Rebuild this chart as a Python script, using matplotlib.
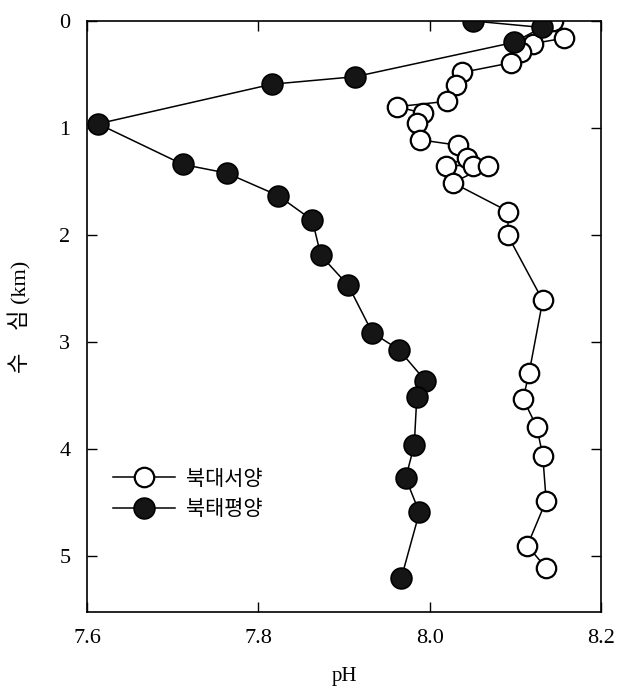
import matplotlib.pyplot as plt

plt.rcParams['font.family'] = ['Liberation Serif', 'Noto Sans CJK KR']

# 북대서양 (open circles)
atl_ph = [8.144, 8.157, 8.121, 8.107, 8.095, 8.038, 8.031, 8.020, 7.962, 7.992,
          7.985, 7.989, 8.033, 8.044, 8.019, 8.050, 8.068, 8.027, 8.092, 8.091,
          8.132, 8.116, 8.109, 8.125, 8.132, 8.136, 8.114, 8.136]
atl_depth = [0.00, 0.16, 0.21, 0.29, 0.39, 0.48, 0.60, 0.75, 0.80, 0.86,
             0.95, 1.11, 1.16, 1.28, 1.35, 1.35, 1.35, 1.51, 1.78, 2.00,
             2.61, 3.29, 3.53, 3.79, 4.06, 4.48, 4.90, 5.11]

# 북태평양 (filled circles)
pac_ph = [8.051, 8.131, 8.098, 7.913, 7.816, 7.613, 7.712, 7.763, 7.823, 7.863,
          7.873, 7.905, 7.933, 7.964, 7.995, 7.985, 7.982, 7.972, 7.988, 7.967]
pac_depth = [0.00, 0.06, 0.20, 0.52, 0.59, 0.96, 1.34, 1.42, 1.63, 1.86,
             2.19, 2.47, 2.91, 3.07, 3.36, 3.51, 3.96, 4.27, 4.59, 5.20]

fig = plt.figure(figsize=(6.29, 6.94), dpi=100)
ax = fig.add_axes([0.1383, 0.1182, 0.8172, 0.8515])

ax.plot(atl_ph, atl_depth, '-o', color='black', lw=1.1, markersize=14,
        markerfacecolor='white', markeredgecolor='black', markeredgewidth=1.6,
        label='북대서양')
ax.plot(pac_ph, pac_depth, '-o', color='black', lw=1.1, markersize=15,
        markerfacecolor='#151515', markeredgecolor='black', markeredgewidth=1.2,
        label='북태평양')

ax.set_xlim(7.6, 8.2)
ax.set_ylim(5.52, 0)
ax.set_xticks([7.6, 7.8, 8.0, 8.2])
ax.set_xticklabels(['7.6', '7.8', '8.0', '8.2'])
ax.set_yticks([0, 1, 2, 3, 4, 5])
ax.tick_params(direction='in', length=7, width=1.0, labelsize=16,
               top=True, right=True)
ax.tick_params(axis='x', pad=12)
ax.tick_params(axis='y', pad=12)
for s in ax.spines.values():
    s.set_linewidth(1.2)

ax.set_xlabel('pH', fontsize=15, labelpad=14)
ax.set_ylabel('수    심 (km)', fontsize=16, labelpad=20)

ax.legend(loc='center left', bbox_to_anchor=(0.05, 0.2), frameon=False,
          borderaxespad=0, borderpad=0,
          handlelength=3.0, handletextpad=0.5, labelspacing=0.4,
          prop={'family': 'Noto Sans CJK KR', 'size': 15})

fig.savefig('out.png', dpi=100)
